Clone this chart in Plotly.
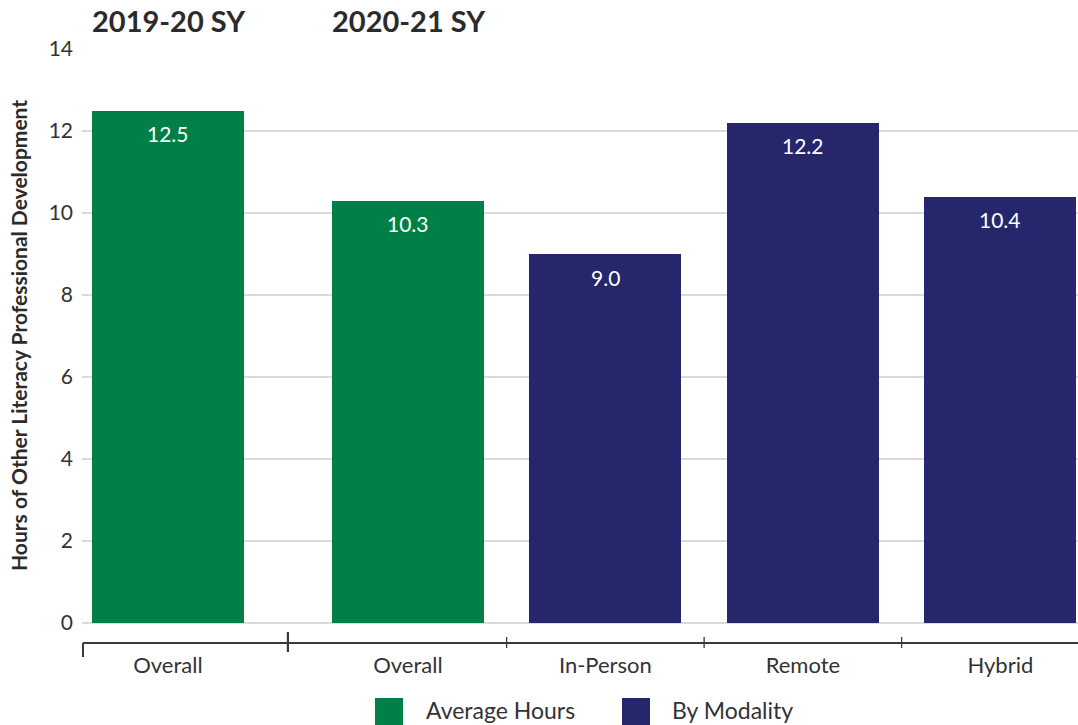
import plotly.graph_objects as go

# ---- data -------------------------------------------------------------
school_years = ["2019-20 SY", "2020-21 SY"]
categories = ["Overall", "Overall", "In-Person", "Remote", "Hybrid"]
year_index = [0, 1, 1, 1, 1]
series = ["Average Hours", "Average Hours", "By Modality", "By Modality", "By Modality"]
hours = [12.5, 10.3, 9.0, 12.2, 10.4]
y_ticks = [0, 2, 4, 6, 8, 10, 12, 14]
legend_items = ["Average Hours", "By Modality"]

# ---- style ------------------------------------------------------------
W, H = 1078, 725
M_L, M_R, M_T, M_B = 82, 0, 49, 102
PW, PH = W - M_L - M_R, H - M_T - M_B
COLORS = {"Average Hours": "#008046", "By Modality": "#26266c"}
TEXT = "#333333"
FONT = "Lato"
GROUP_GAP = 0.215      # extra space between the school-year groups
BAR_W = 0.77
X_RANGE = [-0.435, 4.608]


def px_x(px):
    return (px - M_L) / PW


def px_y(py):
    return (H - M_B - py) / PH


positions = [i + GROUP_GAP * g for i, g in enumerate(year_index)]

fig = go.Figure()
for name in legend_items:
    xs = [p for p, s in zip(positions, series) if s == name]
    ys = [v for v, s in zip(hours, series) if s == name]
    fig.add_trace(go.Bar(
        x=xs, y=ys, name=name, width=BAR_W,
        marker=dict(color=COLORS[name], line=dict(width=0)),
        showlegend=False, hoverinfo="skip",
    ))

# value labels inside the top of each bar
for p, v in zip(positions, hours):
    fig.add_annotation(
        x=p, y=v, xref="x", yref="y", text=f"{v:.1f}", showarrow=False,
        yanchor="middle", yshift=-23,
        font=dict(family=FONT, size=21, color="white"),
    )

# school-year headers, aligned with the first bar of each year
for g, label in enumerate(school_years):
    first = positions[year_index.index(g)]
    fig.add_annotation(
        x=first - BAR_W / 2, y=px_y(21), xref="x", yref="paper",
        text=f"<b>{label}</b>", showarrow=False, xanchor="left", yanchor="middle",
        xshift=-2, font=dict(family=FONT, size=29, color="#2b2b2b"),
    )

# y-axis title
fig.add_annotation(
    x=px_x(18), y=px_y(336), xref="paper", yref="paper", textangle=-90,
    text="<b>Hours of Other Literacy Professional Development</b>",
    showarrow=False, xanchor="center", yanchor="middle",
    font=dict(family=FONT, size=21, color="#2b2b2b"),
)

# category axis line with group dividers
LINE_C = "#3a3a3a"
y_line = px_y(643)
fig.add_shape(type="line", xref="paper", yref="paper", x0=px_x(83), x1=1,
              y0=y_line, y1=y_line, line=dict(color=LINE_C, width=2))
fig.add_shape(type="line", xref="paper", yref="paper", x0=px_x(83), x1=px_x(83),
              y0=y_line, y1=px_y(657), line=dict(color=LINE_C, width=2))
for i in range(len(positions) - 1):
    mid = (positions[i] + positions[i + 1]) / 2
    if year_index[i] != year_index[i + 1]:
        y0, y1, w = px_y(632), px_y(652), 2.2
    else:
        y0, y1, w = px_y(637), px_y(648), 1.3
    fig.add_shape(type="line", xref="x", yref="paper", x0=mid, x1=mid,
                  y0=y0, y1=y1, line=dict(color=LINE_C, width=w))

# legend drawn as swatches + labels
legend_px = [(375, 424), (622, 670)]
for name, (sx, tx) in zip(legend_items, legend_px):
    fig.add_shape(type="rect", xref="paper", yref="paper",
                  x0=px_x(sx), x1=px_x(sx + 28), y0=px_y(698), y1=px_y(727),
                  line=dict(width=0), fillcolor=COLORS[name])
    fig.add_annotation(
        x=px_x(tx), y=px_y(710), xref="paper", yref="paper", text=name,
        showarrow=False, xanchor="left", yanchor="middle",
        font=dict(family=FONT, size=23, color=TEXT),
    )

fig.update_layout(
    width=W, height=H,
    margin=dict(l=M_L, r=M_R, t=M_T, b=M_B),
    paper_bgcolor="white", plot_bgcolor="white",
    barmode="overlay", bargap=0,
    font=dict(family=FONT, color=TEXT),
    xaxis=dict(
        range=X_RANGE, tickmode="array", tickvals=positions, ticktext=categories,
        showgrid=False, zeroline=False, showline=False, ticks="",
        tickfont=dict(family=FONT, size=22, color=TEXT),
        ticklabelstandoff=27,
    ),
    yaxis=dict(
        range=[0, 14], tickmode="array", tickvals=y_ticks,
        showgrid=True, gridcolor="#dadada", gridwidth=1.5,
        zeroline=True, zerolinecolor="#dadada", zerolinewidth=1.5,
        showline=False, ticks="",
        tickfont=dict(family=FONT, size=21, color=TEXT),
        ticklabelstandoff=8,
    ),
)

fig.write_html("out.html")
